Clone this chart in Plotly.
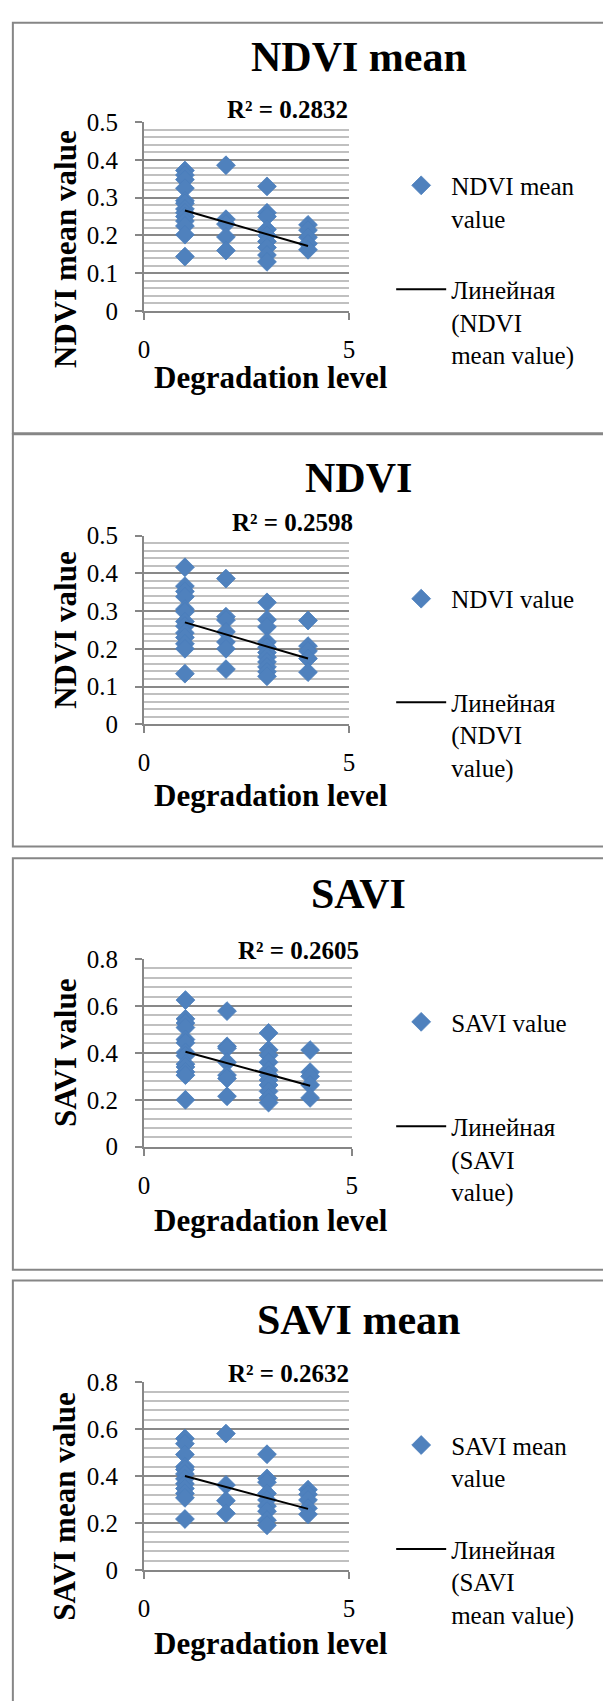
import plotly.graph_objects as go

W, H = 603, 1701

# ---------------- data ----------------
ndvi_mean_level = [1, 1, 1, 1, 1, 1, 1, 1, 1, 1, 1, 1, 1,
                   2, 2, 2, 2, 2,
                   3, 3, 3, 3, 3, 3, 3, 3, 3,
                   4, 4, 4, 4, 4]
ndvi_mean_value = [0.372, 0.360, 0.348, 0.325, 0.292, 0.285, 0.270, 0.260, 0.250, 0.238, 0.225, 0.202, 0.144,
                   0.386, 0.243, 0.230, 0.196, 0.160,
                   0.330, 0.260, 0.250, 0.216, 0.200, 0.184, 0.168, 0.148, 0.130,
                   0.228, 0.214, 0.195, 0.178, 0.162]
ndvi_mean_trend_x = [1, 4]
ndvi_mean_trend_y = [0.266, 0.172]

ndvi_level = [1, 1, 1, 1, 1, 1, 1, 1, 1, 1, 1, 1, 1,
              2, 2, 2, 2, 2, 2, 2,
              3, 3, 3, 3, 3, 3, 3, 3, 3, 3, 3,
              4, 4, 4, 4, 4]
ndvi_value = [0.416, 0.366, 0.352, 0.338, 0.305, 0.298, 0.272, 0.260, 0.242, 0.230, 0.213, 0.200, 0.134,
              0.386, 0.285, 0.276, 0.245, 0.218, 0.200, 0.146,
              0.323, 0.277, 0.258, 0.218, 0.204, 0.190, 0.178, 0.165, 0.152, 0.139, 0.127,
              0.275, 0.207, 0.194, 0.174, 0.138]
ndvi_trend_x = [1, 4]
ndvi_trend_y = [0.270, 0.174]

savi_level = [1, 1, 1, 1, 1, 1, 1, 1, 1, 1, 1, 1, 1,
              2, 2, 2, 2, 2, 2, 2,
              3, 3, 3, 3, 3, 3, 3, 3, 3, 3, 3,
              4, 4, 4, 4, 4]
savi_value = [0.625, 0.545, 0.527, 0.508, 0.457, 0.443, 0.402, 0.388, 0.352, 0.340, 0.319, 0.305, 0.200,
              0.578, 0.428, 0.420, 0.360, 0.305, 0.291, 0.215,
              0.485, 0.413, 0.390, 0.360, 0.326, 0.305, 0.284, 0.263, 0.236, 0.208, 0.188,
              0.412, 0.318, 0.300, 0.263, 0.208]
savi_trend_x = [1, 4]
savi_trend_y = [0.405, 0.260]

savi_mean_level = [1, 1, 1, 1, 1, 1, 1, 1, 1, 1, 1, 1,
                   2, 2, 2, 2,
                   3, 3, 3, 3, 3, 3, 3, 3, 3,
                   4, 4, 4, 4, 4]
savi_mean_value = [0.560, 0.538, 0.492, 0.440, 0.428, 0.409, 0.388, 0.367, 0.347, 0.326, 0.307, 0.217,
                   0.581, 0.362, 0.295, 0.241,
                   0.493, 0.390, 0.374, 0.326, 0.298, 0.272, 0.250, 0.212, 0.190,
                   0.342, 0.322, 0.298, 0.263, 0.237]
savi_mean_trend_x = [1, 4]
savi_mean_trend_y = [0.400, 0.260]

titles = ["NDVI mean", "NDVI", "SAVI", "SAVI mean"]
y_titles = ["NDVI mean value", "NDVI value", "SAVI value", "SAVI mean value"]
x_title = "Degradation level"
r2_labels = ["R² = 0.2832", "R² = 0.2598", "R² = 0.2605", "R² = 0.2632"]
series_names = ["NDVI mean<br>value", "NDVI value", "SAVI value", "SAVI mean<br>value"]
trend_names = ["Линейная<br>(NDVI<br>mean value)", "Линейная<br>(NDVI<br>value)",
               "Линейная<br>(SAVI<br>value)", "Линейная<br>(SAVI<br>mean value)"]
y_max = [0.5, 0.5, 0.8, 0.8]
y_major = [0.1, 0.1, 0.2, 0.2]
y_minor = [0.02, 0.02, 0.04, 0.04]
x_range = [0, 5]

levels = [ndvi_mean_level, ndvi_level, savi_level, savi_mean_level]
values = [ndvi_mean_value, ndvi_value, savi_value, savi_mean_value]
trend_xs = [ndvi_mean_trend_x, ndvi_trend_x, savi_trend_x, savi_mean_trend_x]
trend_ys = [ndvi_mean_trend_y, ndvi_trend_y, savi_trend_y, savi_mean_trend_y]

# ---------------- layout geometry (pixels) ----------------
plot_left = [140.7, 140.7, 140.7, 140.7]
plot_right = [350, 350, 352.7, 350]
plot_bottom = [302.7, 722.7, 1152, 1582]
plot_top = [111, 531, 961.3, 1391.3]
panel_box = [(7, 10, 640, 427), (7, 428, 640, 847), (7, 859, 640, 1277), (7, 1288, 640, 1740)]
title_y = [45, 472, 895, 1328]
r2_right = [351, 356, 362, 352]
r2_y = [98, 518, 953, 1382]
ytitle_y = [240, 627, 1057, 1517]
xtitle_y = [370, 795, 1227, 1657]
legend_top = [152, 572, 1002, 1432]
legend_gap = [36, 68, 69, 36]

FONT = "Liberation Serif, Times New Roman, serif"
BLUE = "#4F81BD"
GRID_MAJOR = "#898989"
GRID_MINOR = "#c0c0c0"
AXIS = "#868686"


def fx(x):
    return x / W


def fy(y):
    return 1 - y / H


fig = go.Figure()
layout = dict(
    width=W, height=H,
    margin=dict(l=0, r=0, t=0, b=0),
    paper_bgcolor="white", plot_bgcolor="white",
    showlegend=True,
    font=dict(family=FONT, size=25, color="black"),
    shapes=[], annotations=[],
)

for i in range(4):
    sfx = "" if i == 0 else str(i + 1)
    leg = "legend" + sfx
    fig.add_trace(go.Scatter(
        x=levels[i], y=values[i], mode="markers", name=series_names[i],
        marker=dict(symbol="diamond", size=14.5, color=BLUE, line=dict(width=0.8, color="#4a7ebb")),
        xaxis="x" + sfx, yaxis="y" + sfx, legend=leg, legendgroup="pts" + sfx,
        hoverinfo="skip"))
    fig.add_trace(go.Scatter(
        x=trend_xs[i], y=trend_ys[i], mode="lines", name=trend_names[i],
        line=dict(color="black", width=2),
        xaxis="x" + sfx, yaxis="y" + sfx, legend=leg, legendgroup="trend" + sfx,
        hoverinfo="skip"))

    layout["xaxis" + sfx] = dict(
        domain=[fx(plot_left[i]), fx(plot_right[i])], range=x_range,
        anchor="y" + sfx, tick0=0, dtick=5,
        showgrid=False, zeroline=False,
        showline=True, linecolor=AXIS, linewidth=2,
        ticks="outside", ticklen=7, tickwidth=1.5, tickcolor=AXIS,
        tickfont=dict(family=FONT, size=25, color="black"),
        ticklabelstandoff=8,
    )
    layout["yaxis" + sfx] = dict(
        domain=[fy(plot_bottom[i]), fy(plot_top[i])], range=[0, y_max[i]],
        anchor="x" + sfx, tick0=0, dtick=y_major[i],
        showgrid=True, gridcolor=GRID_MAJOR, gridwidth=2.2,
        minor=dict(dtick=y_minor[i], showgrid=True, gridcolor=GRID_MINOR, gridwidth=2, ticks=""),
        zeroline=False,
        showline=True, linecolor=AXIS, linewidth=2,
        ticks="outside", ticklen=7, tickwidth=1.5, tickcolor=AXIS,
        tickfont=dict(family=FONT, size=25, color="black"),
        ticklabelstandoff=12,
    )
    layout[leg] = dict(
        x=fx(393), y=fy(legend_top[i]), xanchor="left", yanchor="top",
        bgcolor="rgba(0,0,0,0)", borderwidth=0,
        font=dict(family=FONT, size=25, color="black"),
        valign="top", itemwidth=50, tracegroupgap=legend_gap[i],
        traceorder="grouped",
    )

    x0, y0, x1, y1 = panel_box[i]
    layout["shapes"].append(dict(
        type="rect", xref="paper", yref="paper",
        x0=fx(x0), x1=fx(x1), y0=fy(y1), y1=fy(y0),
        line=dict(color=AXIS, width=2), fillcolor="rgba(0,0,0,0)", layer="above"))

    layout["annotations"] += [
        dict(text="<b>%s</b>" % titles[i], x=fx(360), y=fy(title_y[i]), xref="paper", yref="paper",
             xanchor="center", yanchor="middle", showarrow=False,
             font=dict(family=FONT, size=42, color="black")),
        dict(text="<b>%s</b>" % r2_labels[i], x=fx(r2_right[i]), y=fy(r2_y[i]), xref="paper", yref="paper",
             xanchor="right", yanchor="middle", showarrow=False,
             font=dict(family=FONT, size=25, color="black")),
        dict(text="<b>%s</b>" % y_titles[i], x=fx(60), y=fy(ytitle_y[i]), xref="paper", yref="paper",
             xanchor="center", yanchor="middle", showarrow=False, textangle=-90,
             font=dict(family=FONT, size=31, color="black")),
        dict(text="<b>%s</b>" % x_title, x=fx(270), y=fy(xtitle_y[i]), xref="paper", yref="paper",
             xanchor="center", yanchor="middle", showarrow=False,
             font=dict(family=FONT, size=31, color="black")),
    ]

fig.update_layout(**layout)
fig.write_html(
    "out.html",
    config={"displayModeBar": False, "staticPlot": False},
    post_script="document.body.style.margin='0px';document.body.style.padding='0px';"
                "document.documentElement.style.overflow='hidden';document.body.style.overflow='hidden';",
)
